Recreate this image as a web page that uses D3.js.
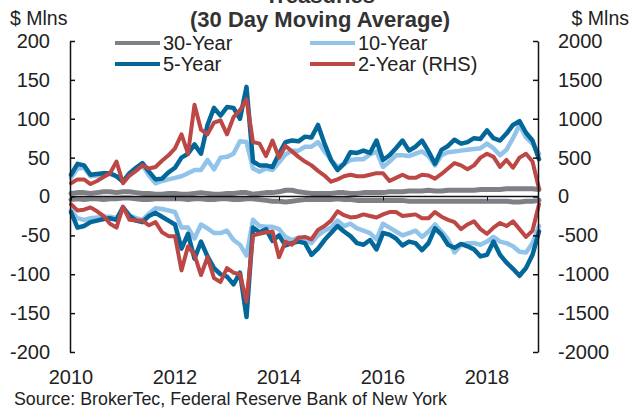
<!DOCTYPE html>
<html>
<head>
<meta charset="utf-8">
<script src="https://cdn.jsdelivr.net/npm/d3@7"></script>
<style>
  body { margin: 0; background: #fff; }
  text { font-family: "Liberation Sans", Arial, sans-serif; fill: #222; }
</style>
</head>
<body>
<script>
(function () {
  // x grid: every 1.5 months, 2010 to 2019
  const dates = [
    2010, 2010.125, 2010.25, 2010.375, 2010.5, 2010.625, 2010.75, 2010.875,
    2011, 2011.125, 2011.25, 2011.375, 2011.5, 2011.625, 2011.75, 2011.875,
    2012, 2012.125, 2012.25, 2012.375, 2012.5, 2012.625, 2012.75, 2012.875,
    2013, 2013.125, 2013.25, 2013.375, 2013.5, 2013.625, 2013.75, 2013.875,
    2014, 2014.125, 2014.25, 2014.375, 2014.5, 2014.625, 2014.75, 2014.875,
    2015, 2015.125, 2015.25, 2015.375, 2015.5, 2015.625, 2015.75, 2015.875,
    2016, 2016.125, 2016.25, 2016.375, 2016.5, 2016.625, 2016.75, 2016.875,
    2017, 2017.125, 2017.25, 2017.375, 2017.5, 2017.625, 2017.75, 2017.875,
    2018, 2018.125, 2018.25, 2018.375, 2018.5, 2018.625, 2018.75, 2018.875,
    2019
  ]

  // $ Mlns, left axis
  const y30Pos = [4,5,5,4,5,6,6,5, 6,6,5,4,4,3,3,4, 4,3,3,4,5,4,3,3, 4,4,5,5,3,4,5,5,
                  6,8,8,6,5,4,4,4, 4,5,5,4,4,5,5,5, 5,6,6,6,7,7,7,8, 7,7,8,8,8,8,8,9,
                  9,9,9,10,10,10,10,10,9]
  const y30Neg = [-4,-3,-4,-3,-3,-4,-3,-3, -2,-2,-3,-4,-4,-3,-3,-3, -3,-3,-4,-3,-3,-4,-4,-3,
                  -3,-4,-4,-3,-3,-4,-5,-6, -6,-7,-6,-5,-4,-4,-4,-4, -4,-3,-4,-4,-5,-5,-5,-5,
                  -5,-5,-5,-5,-6,-6,-6,-6, -6,-6,-6,-6,-6,-6,-6,-6, -6,-6,-6,-6,-7,-7,-6,-6,-5]

  const y10Pos = [24,36,37,26,27,28,29,26, 20,28,35,40,27,17,20,22, 24,26,30,34,34,47,35,50,
                  51,55,71,70,36,32,36,34, 44,54,59,59,64,64,70,58, 47,38,42,47,48,48,54,58,
                  38,45,53,53,52,55,58,52, 40,53,57,58,59,60,61,62, 68,62,53,60,75,92,76,68,55]
  const y10Neg = [-18,-28,-30,-28,-27,-26,-26,-28, -14,-24,-28,-30,-22,-15,-16,-18,
                  -20,-40,-40,-54,-36,-41,-47,-47, -44,-56,-62,-76,-30,-38,-39,-39,
                  -42,-52,-56,-53,-55,-60,-50,-44, -40,-31,-38,-35,-41,-44,-47,-55,
                  -35,-40,-45,-50,-47,-44,-52,-45, -36,-45,-55,-72,-62,-60,-60,-62,
                  -58,-52,-58,-60,-64,-71,-72,-60,-38]

  const y5Pos = [28,42,40,28,29,30,30,26, 19,30,37,43,32,22,23,31, 37,50,55,67,55,92,114,104,
                 115,114,100,141,45,40,40,38, 55,70,72,71,77,76,92,68, 47,34,42,57,56,59,56,72,
                 47,53,62,72,59,64,72,58, 42,60,65,73,68,70,75,74, 85,75,72,81,92,97,82,72,48]
  const y5Neg = [-20,-40,-38,-33,-31,-29,-28,-30, -14,-25,-31,-33,-25,-21,-26,-31,
                 -36,-67,-48,-80,-58,-77,-92,-100, -103,-113,-98,-155,-40,-46,-42,-57,
                 -50,-63,-60,-58,-60,-75,-67,-56, -47,-38,-45,-51,-60,-62,-56,-68,
                 -47,-49,-54,-63,-58,-60,-69,-60, -41,-49,-62,-66,-61,-64,-68,-77,
                 -75,-58,-75,-85,-93,-102,-92,-75,-45]

  // $ Mlns, right axis
  const y2Pos = [170,220,220,160,200,250,300,450, 170,270,330,400,360,380,460,530,
                 620,800,550,1180,860,800,950,980, 800,1020,1110,1250,700,680,520,720,
                 500,650,580,510,450,400,330,270, 190,220,260,280,260,260,280,300,
                 300,200,240,280,240,240,280,270, 230,290,360,430,400,350,400,500,
                 550,510,380,470,370,500,550,450,100]
  const y2Neg = [-100,-180,-170,-140,-190,-250,-350,-400, -130,-300,-310,-310,-370,-330,-460,-510,
                 -510,-950,-640,-750,-1010,-780,-1050,-1100, -920,-980,-1000,-1350,-500,-480,-460,-450,
                 -780,-580,-620,-530,-520,-550,-430,-380, -310,-190,-240,-270,-260,-230,-250,-270,
                 -230,-200,-200,-250,-240,-230,-280,-280, -200,-260,-300,-330,-420,-360,-320,-420,
                 -480,-400,-340,-380,-320,-420,-520,-440,-100]

  const leftTicks = [-200, -150, -100, -50, 0, 50, 100, 150, 200]
  const rightTicks = [-2000, -1500, -1000, -500, 0, 500, 1000, 1500, 2000]
  const yearTicks = [2010, 2012, 2014, 2016, 2018]

  const legendItems = [
    { name: '30-Year', color: '#7f8085' },
    { name: '10-Year', color: '#92c4ea' },
    { name: '5-Year', color: '#04679a' },
    { name: '2-Year (RHS)', color: '#bd4744' }
  ]

  const W = 631, H = 411
  const x = d3.scaleLinear().domain([2010, 2019]).range([71, 539])
  const yL = d3.scaleLinear().domain([-200, 200]).range([352, 41])
  const yR = d3.scaleLinear().domain([-2000, 2000]).range([352, 41])

  const svg = d3.select('body').append('svg')
                .attr('width', W)
                .attr('height', H)

  // titles
  svg.append('text')
     .attr('x', 320).attr('y', 3)
     .attr('text-anchor', 'middle')
     .style('font-size', '22px').style('font-weight', 'bold').style('fill', '#333')
     .text('Treasuries')
  svg.append('text')
     .attr('x', 320).attr('y', 27)
     .attr('text-anchor', 'middle')
     .style('font-size', '22px').style('font-weight', 'bold').style('fill', '#333')
     .text('(30 Day Moving Average)')
  svg.append('text')
     .attr('x', 10).attr('y', 25)
     .style('font-size', '19.5px')
     .text('$ Mlns')
  svg.append('text')
     .attr('x', 629).attr('y', 25)
     .attr('text-anchor', 'end')
     .style('font-size', '19.5px')
     .text('$ Mlns')

  // lines
  const lineL = d3.line().x((d, i) => x(dates[i])).y(d => yL(d))
  const lineR = d3.line().x((d, i) => x(dates[i])).y(d => yR(d))

  const series = [
    { data: y30Pos, line: lineL, color: legendItems[0].color, w: 5 },
    { data: y30Neg, line: lineL, color: legendItems[0].color, w: 5 },
    { data: y10Pos, line: lineL, color: legendItems[1].color, w: 4.5 },
    { data: y10Neg, line: lineL, color: legendItems[1].color, w: 4.5 },
    { data: y5Pos, line: lineL, color: legendItems[2].color, w: 4.5 },
    { data: y5Neg, line: lineL, color: legendItems[2].color, w: 4.5 },
    { data: y2Pos, line: lineR, color: legendItems[3].color, w: 4 },
    { data: y2Neg, line: lineR, color: legendItems[3].color, w: 4 }
  ]

  svg.append('g').selectAll('path')
     .data(series)
     .enter()
     .append('path')
     .attr('fill', 'none')
     .attr('stroke', d => d.color)
     .attr('stroke-width', d => d.w)
     .attr('stroke-linejoin', 'round')
     .attr('stroke-linecap', 'round')
     .attr('d', d => d.line(d.data))

  // zero axis
  const xAxis = d3.axisBottom(x)
                  .tickValues(yearTicks)
                  .tickSizeInner(4)
                  .tickSizeOuter(0)
                  .tickFormat('')
  svg.append('g')
     .attr('transform', `translate(0,${yL(0)})`)
     .call(xAxis)
     .call(g => g.select('.domain').attr('d', `M70,0H538`).attr('stroke', '#111').attr('stroke-width', 1.5))
     .call(g => g.selectAll('.tick line').attr('stroke', '#111'))

  svg.append('g').selectAll('text')
     .data(yearTicks)
     .enter()
     .append('text')
     .attr('x', d => x(d))
     .attr('y', 384)
     .attr('text-anchor', 'middle')
     .style('font-size', '20px')
     .text(d => d)

  // y axes
  const leftAxis = d3.axisLeft(yL)
                     .tickValues(leftTicks)
                     .tickSizeInner(-5)
                     .tickSizeOuter(0)
                     .tickPadding(20)
                     .tickFormat(d => d)
  svg.append('g')
     .attr('transform', 'translate(70,0)')
     .call(leftAxis)
     .call(g => g.selectAll('.tick text').style('font-size', '20px').attr('fill', '#222'))
     .call(g => g.selectAll('line, path').attr('stroke', '#111').attr('stroke-width', 1.5))

  const rightAxis = d3.axisRight(yR)
                      .tickValues(rightTicks)
                      .tickSizeInner(-5)
                      .tickSizeOuter(0)
                      .tickPadding(20)
                      .tickFormat(d => d)
  svg.append('g')
     .attr('transform', 'translate(538,0)')
     .call(rightAxis)
     .call(g => g.selectAll('.tick text').style('font-size', '20px').attr('fill', '#222'))
     .call(g => g.selectAll('line, path').attr('stroke', '#111').attr('stroke-width', 1.5))

  svg.selectAll('.tick text').style('font-family', '"Liberation Sans", Arial, sans-serif')

  // legend
  const legend = svg.append('g').selectAll('g')
                    .data(legendItems)
                    .enter()
                    .append('g')
                    .attr('transform', (d, i) => `translate(${i % 2 === 0 ? 115 : 310},${i < 2 ? 43 : 64})`)
  legend.append('line')
        .attr('x1', 0).attr('x2', 45)
        .attr('stroke', d => d.color)
        .attr('stroke-width', 4)
  legend.append('text')
        .attr('x', 48).attr('y', 7)
        .style('font-size', '20px')
        .text(d => d.name)

  // source
  svg.append('text')
     .attr('x', 14).attr('y', 405)
     .style('font-size', '17.8px')
     .text('Source: BrokerTec, Federal Reserve Bank of New York')
})()
</script>
</body>
</html>
